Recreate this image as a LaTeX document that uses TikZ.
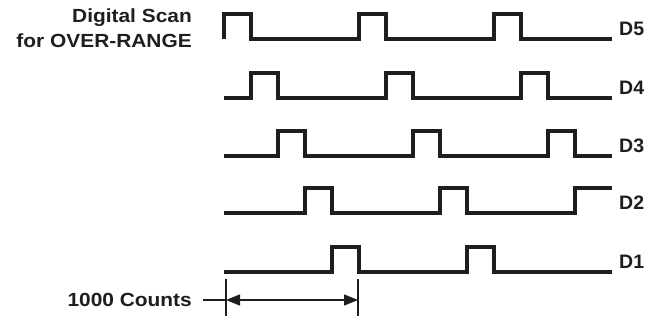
\documentclass[tikz,border=0pt]{standalone}
\usepackage{fontspec}
\setmainfont{Liberation Sans}
\newfontfamily\widefont[FakeStretch=1.1]{Liberation Sans}
\usetikzlibrary{arrows.meta,positioning}
\definecolor{inkcol}{HTML}{1E1E1E}
\tikzset{
  wave/.style={line width=3.3pt, draw=inkcol},
  dim/.style={line width=1.3pt, draw=inkcol},
  lbl/.style={font=\widefont\bfseries\fontsize{19}{21}\selectfont, text=inkcol, inner sep=0pt},
  chan/.style={font=\bfseries\fontsize{19.5}{21}\selectfont, text=inkcol, inner sep=0pt},
}

\begin{document}
\begin{tikzpicture}[x=1pt,y=-1pt]
  \useasboundingbox (0,0) rectangle (649,320);
  % one slot = 27pt, first slot at x=224
  \foreach \y/\p/\xe/\h/\lab in {39/{0,5,10}/612/0/D5, 98/{1,6,11}/612/0/D4,
      156/{2,7,12}/612/0/D3, 213/{3,8}/575/25/D2, 272/{4,9}/612/0/D1}{
    \draw[wave] (224,\y) foreach \k in \p {-- ({224+27*\k},\y) |- ({224+27*(\k+1)},{\y-25}) -- ({224+27*(\k+1)},\y)}
      -- (\xe,\y) |- (612,{\y-\h});
    \node[chan, anchor=base west] (\lab) at (619,{\y-3}) {\lab};
  }

  \node[lbl, anchor=base east] (scan) at (192,23) {Digital Scan};
  \node[lbl, anchor=base east] (range) at (192,48) {for OVER-RANGE};

  % 1000 counts span
  \node[lbl, anchor=base east] (counts) at (192,307) {1000 Counts};
  \coordinate (cL) at (226,300);
  \coordinate (cR) at (358,300);
  \draw[dim] ([yshift=21pt]cL) -- ([yshift=-16pt]cL);
  \draw[dim] ([yshift=21pt]cR) -- ([yshift=-16pt]cR);
  \draw[dim, {Triangle[length=14pt,width=11pt]}-{Triangle[length=14pt,width=11pt]}] (cL) -- (cR);
  \draw[dim, shorten <=11pt] (counts.east |- cL) -- (cL);
\end{tikzpicture}
\end{document}
